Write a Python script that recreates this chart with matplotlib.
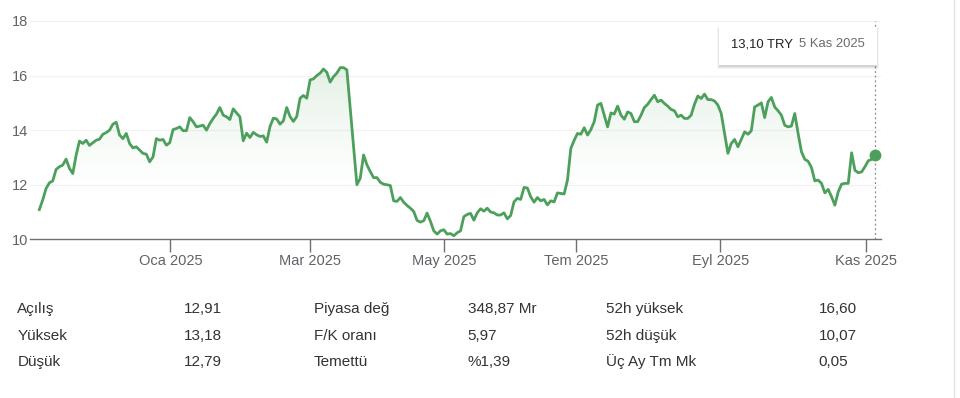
import numpy as np
import matplotlib
matplotlib.use('Agg')
import matplotlib.pyplot as plt
from matplotlib.patches import Rectangle

plt.rcParams['font.family'] = ['Liberation Sans', 'DejaVu Sans']

# daily closing prices (TRY), 6 Kas 2024 - 5 Kas 2025
prices = [
    11.09, 11.44, 11.86, 12.07, 12.14, 12.56, 12.66, 12.72, 12.94, 12.60,
    12.41, 13.08, 13.60, 13.51, 13.63, 13.44, 13.54, 13.63, 13.67, 13.85,
    13.91, 14.00, 14.22, 14.29, 13.82, 13.69, 13.88, 13.51, 13.35, 13.39,
    13.27, 13.15, 13.12, 12.84, 13.02, 13.69, 13.63, 13.66, 13.45, 13.54,
    14.02, 14.06, 14.12, 13.98, 13.98, 14.46, 14.31, 14.12, 14.15, 14.18,
    14.00, 14.24, 14.43, 14.59, 14.83, 14.55, 14.49, 14.39, 14.78, 14.63,
    14.49,
    13.61, 13.89, 13.73, 13.92, 13.83, 13.77, 13.79, 13.56, 14.13, 14.44,
    14.41, 14.22, 14.34, 14.83, 14.50, 14.32, 14.50, 15.17, 15.27, 15.17,
    15.84, 15.88, 16.00, 16.09, 16.24, 16.12, 15.76, 15.96, 16.09, 16.29,
    16.29, 16.21, 14.80, 13.40, 12.00, 12.24, 13.09, 12.73, 12.48, 12.26,
    12.26, 12.09, 12.02, 12.00, 11.97, 11.41, 11.39, 11.53, 11.36, 11.24,
    11.14, 11.02, 10.69, 10.63, 10.68, 10.96, 10.66, 10.31, 10.19, 10.31,
    10.35,
    10.19, 10.21, 10.13, 10.24, 10.31, 10.83, 10.91, 10.95, 10.70, 10.97,
    11.12, 11.03, 11.14, 11.00, 10.97, 10.89, 10.89, 10.97, 10.75, 10.87,
    11.37, 11.50, 11.46, 11.90, 11.88, 11.56, 11.36, 11.53, 11.41, 11.46,
    11.26, 11.41, 11.37, 11.70, 11.68, 11.66, 12.17, 13.33, 13.63, 13.88,
    13.85, 14.09, 13.82, 14.02, 14.31, 14.92, 14.98, 14.55, 14.12, 14.63,
    14.59, 14.88, 14.55, 14.40, 14.67, 14.61, 14.31, 14.31, 14.55, 14.83,
    14.95, 15.12, 15.28, 15.04,
    15.10, 14.98, 14.88, 14.76, 14.71, 14.49, 14.55, 14.43, 14.43, 14.55,
    14.95, 15.25, 15.16, 15.32, 15.12, 15.12, 15.07, 14.92, 14.61, 13.88,
    13.15, 13.51, 13.66, 13.39, 13.66, 13.94, 13.85, 13.98, 14.85, 14.92,
    15.00, 14.46, 15.04, 15.20, 14.85, 14.71, 14.55, 14.18, 14.12, 14.15,
    14.61, 13.88, 13.21, 12.93, 12.86, 12.63, 12.14, 12.17, 12.05, 11.70,
    11.83, 11.56, 11.25, 11.74, 12.02, 12.05, 12.05, 13.17, 12.53, 12.44,
    12.47, 12.66, 12.88, 12.93, 13.10,
]

# trading-day index of the first session of each labelled month
month_idx = [39.2, 81.1, 121.1, 160.5, 203.7, 247.2]
month_labels = ['Oca 2025', 'Mar 2025', 'May 2025', 'Tem 2025', 'Eyl 2025', 'Kas 2025']
y_ticks = [10, 12, 14, 16, 18]

tip_price = '13,10 TRY'
tip_date = '5 Kas 2025'

stat_labels = [['Açılış', 'Yüksek', 'Düşük'],
               ['Piyasa değ', 'F/K oranı', 'Temettü'],
               ['52h yüksek', '52h düşük', 'Üç Ay Tm Mk']]
stat_values = [['12,91', '13,18', '12,79'],
               ['348,87 Mr', '5,97', '%1,39'],
               ['16,60', '10,07', '0,05']]

GREEN = '#4ca05b'
W, H = 960, 398

x = np.arange(len(prices))
y = np.array(prices)

fig = plt.figure(figsize=(W / 100, H / 100), dpi=100)
ax = fig.add_axes([30 / W, 1 - 239.3 / H, 851 / W, 218.3 / H])
ax.set_xlim(-2.8, 251.8)
ax.set_ylim(10, 18)

# gridlines
for v in y_ticks[1:]:
    ax.axhline(v, color='#f2f2f2', lw=0.9, zorder=0)

# gradient fill under the line
poly = ax.fill_between(x, y, 10, color='none', lw=0)
alpha = np.clip((np.linspace(10, 18, 300) - 11.2) / (16.3 - 11.2), 0, 1) ** 1.6 * 0.16
grad = np.zeros((300, 1, 4))
grad[:, 0, :3] = matplotlib.colors.to_rgb(GREEN)
grad[:, 0, 3] = alpha
img = ax.imshow(grad, extent=[x[0], x[-1], 10, 18], origin='lower',
                aspect='auto', zorder=1, interpolation='bilinear')
img.set_clip_path(poly.get_paths()[0], ax.transData)

ax.plot(x, y, color=GREEN, lw=2.0, zorder=3, solid_joinstyle='round')
ax.plot(x[-1], y[-1], 'o', color=GREEN, ms=7.5, zorder=4, clip_on=False)
ax.vlines(x[-1], 10, 18, color='#8a8a8a', lw=0.9, linestyles=(0, (1.5, 2.2)), zorder=2)

# axes styling
for s in ['top', 'right', 'left']:
    ax.spines[s].set_visible(False)
ax.spines['bottom'].set_color('#707070')
ax.spines['bottom'].set_linewidth(1.0)
ax.set_yticks(y_ticks)
ax.set_yticklabels([str(v) for v in y_ticks])
ax.set_xticks(month_idx)
ax.set_xticklabels(month_labels)
ax.tick_params(axis='y', length=0, pad=1, labelsize=10.5, labelcolor='#5f6368')
ax.tick_params(axis='x', length=9, width=1, color='#707070', pad=1.5,
               labelsize=10.5, labelcolor='#5f6368')
ax.patch.set_alpha(0)

# tooltip box
def px(xp, yp):
    return xp / W, 1 - yp / H

for off, a in [(3, 0.04), (2, 0.06), (1, 0.08)]:
    fig.patches.append(Rectangle(px(719 - off + 1, 66 + off), (158 + 2 * off - 2) / W,
                                 (37.7 + 2 * off - 2) / H, transform=fig.transFigure,
                                 facecolor='black', alpha=a, edgecolor='none', zorder=5))
fig.patches.append(Rectangle(px(719, 65), 158 / W, 37.7 / H, transform=fig.transFigure,
                             facecolor='white', edgecolor='none', zorder=6))
fig.text(*px(730.7, 47.3), tip_price, fontsize=9.4, color='#202124', va='baseline', zorder=7)
fig.text(*px(799.3, 47.3), tip_date, fontsize=9.4, color='#6b6b6b', va='baseline', zorder=7)

# right border
fig.add_artist(plt.Line2D([954 / W, 954 / W], [0, 1], transform=fig.transFigure,
                          color='#e2e2e2', lw=1))

# stats table
label_x = [17.3, 313.5, 606.5]
value_x = [184, 467.5, 818.5]
baselines = [313.3, 340, 365.7]
for c in range(3):
    for r in range(3):
        fig.text(*px(label_x[c], baselines[r]), stat_labels[c][r], fontsize=11,
                 color='#333333', va='baseline')
        fig.text(*px(value_x[c], baselines[r]), stat_values[c][r], fontsize=11,
                 color='#333333', va='baseline')

fig.savefig('out.png', dpi=100)
